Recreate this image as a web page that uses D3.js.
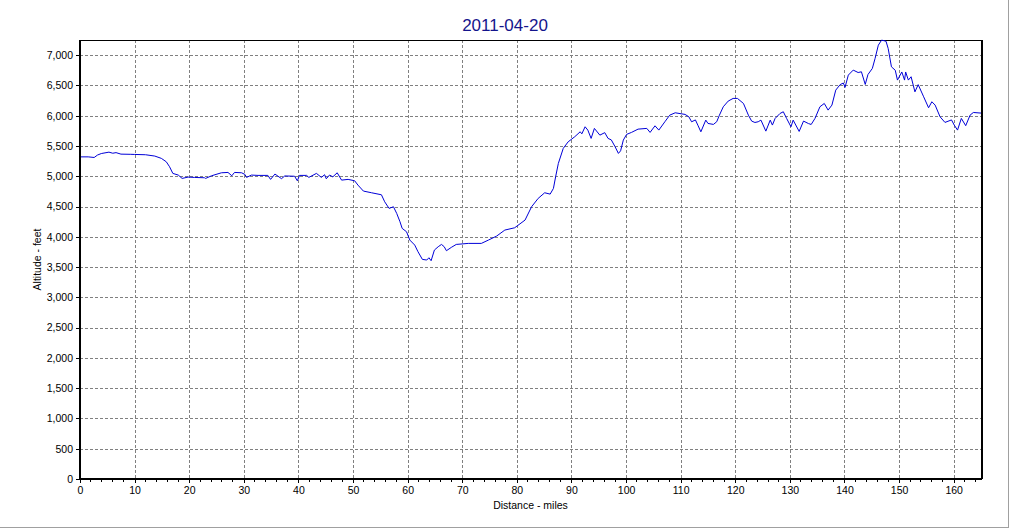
<!DOCTYPE html>
<html>
<head>
<meta charset="utf-8">
<script src="https://cdn.jsdelivr.net/npm/d3@7"></script>
<style>
html,body{margin:0;padding:0;background:#fff;}
svg{display:block;}
text{font-family:"Liberation Sans",Arial,sans-serif;}
</style>
</head>
<body>
<svg id="chart" width="1011" height="529"></svg>
<script>
const title = "2011-04-20";
const xTitle = "Distance - miles";
const yTitle = "Altitude - feet";
const xTicks = [0,10,20,30,40,50,60,70,80,90,100,110,120,130,140,150,160];
const yTicks = [0,500,1000,1500,2000,2500,3000,3500,4000,4500,5000,5500,6000,6500,7000];
const distance = [0,1.5,2.6,3.2,3.9,5.3,6.0,6.6,7.5,9.3,10.0,12.0,13.7,14.9,15.8,16.4,17.0,18.0,18.7,19.8,21.0,22.8,23.0,24.1,25.9,27.1,27.8,28.3,29.6,30.2,30.5,31.4,32.6,34.4,34.9,35.7,36.9,37.5,39.3,39.8,40.2,41.5,41.9,43.3,44.2,44.8,45.1,45.7,46.3,47.1,47.9,49.1,50.3,50.9,51.9,53.4,55.2,55.8,56.6,57.4,58.0,58.6,59.0,59.8,60.4,61.3,61.9,62.7,63.5,63.9,64.3,64.9,65.6,66.2,66.7,67.1,68.0,68.9,71.1,73.5,74.8,76.3,77.8,79.6,81.5,82.7,83.9,85.1,86.1,86.7,87.1,87.6,88.5,89.4,90.6,91.6,91.9,92.5,93.0,93.6,94.2,95.2,96.1,96.7,97.3,98.0,98.6,99.0,99.5,100.1,101.0,102.2,103.8,104.4,105.3,106.0,107.1,108.0,109.0,110.8,111.5,112.0,112.7,113.2,113.7,114.6,115.0,116.0,116.6,117.1,117.8,118.7,119.6,120.4,121.5,122.4,123.0,123.6,124.2,124.7,125.6,126.4,126.8,127.3,128.2,128.8,129.4,130.2,130.6,131.7,132.5,133.4,133.9,134.6,135.5,136.3,137.0,137.7,138.4,139.2,139.8,140.1,140.7,141.6,142.5,143.1,143.8,144.3,145.1,145.6,146.2,146.8,147.6,148.0,148.6,149.3,149.7,150.5,151.0,151.2,151.7,152.2,152.9,153.5,154.5,155.4,156.0,156.6,157.5,158.4,159.6,160.1,160.7,161.4,162.2,163.0,163.6,165.0];
const altitude = [5320,5320,5310,5350,5375,5398,5380,5390,5365,5362,5360,5355,5333,5295,5239,5157,5047,5019,4964,4986,4980,4975,4964,5008,5057,5063,5008,5063,5057,5030,4981,5019,5014,5014,4948,5036,4960,5005,5000,4925,5014,5014,4981,5047,4981,5025,4958,5020,4990,5057,4936,4948,4925,4854,4755,4727,4694,4578,4469,4496,4386,4248,4139,4083,3946,3863,3753,3627,3616,3654,3605,3781,3836,3874,3836,3770,3825,3874,3891,3891,3946,4012,4111,4149,4276,4496,4634,4727,4705,4799,4991,5212,5460,5569,5652,5734,5700,5817,5762,5625,5790,5679,5720,5625,5600,5486,5377,5420,5597,5691,5724,5778,5790,5724,5833,5762,5899,6009,6048,6021,5982,5899,5930,5833,5734,5927,5872,5856,5900,6009,6147,6241,6285,6285,6202,6009,5911,5888,5900,5927,5745,5927,5845,5955,6037,6065,5955,5817,5927,5740,5911,5870,5855,5955,6147,6202,6092,6175,6422,6513,6540,6467,6670,6753,6713,6725,6516,6680,6780,6945,7165,7248,7230,7111,6807,6750,6588,6722,6588,6722,6588,6643,6394,6513,6312,6131,6230,6175,5982,5889,5930,5845,5762,5955,5835,6009,6053,6043];

const svg = d3.select("#chart");
const L = 80, R = 981, T = 40, B = 479;
const x = d3.scaleLinear().domain([0,165]).range([L,R]);
const y = d3.scaleLinear().domain([0,7250]).range([B,T]);

// outer window edges
svg.append("line").attr("x1",0).attr("x2",1009).attr("y1",527.5).attr("y2",527.5).attr("stroke","#a0a0a0");
svg.append("line").attr("x1",1008.5).attr("x2",1008.5).attr("y1",0).attr("y2",528).attr("stroke","#a0a0a0");

// grid
const grid = svg.append("g").attr("stroke","#808080").attr("stroke-width",1).attr("stroke-dasharray","3,2").attr("shape-rendering","crispEdges");
grid.selectAll(".gx").data(xTicks.filter(d=>d>0)).join("line")
  .attr("x1",d=>Math.round(x(d))+0.5).attr("x2",d=>Math.round(x(d))+0.5).attr("y1",T).attr("y2",B);
grid.selectAll(".gy").data(yTicks.filter(d=>d>0)).join("line")
  .attr("x1",L).attr("x2",R).attr("y1",d=>Math.round(y(d))+0.5).attr("y2",d=>Math.round(y(d))+0.5);

// top/right frame
svg.append("line").attr("x1",L).attr("x2",R+1).attr("y1",T+0.5).attr("y2",T+0.5).attr("stroke","#000").attr("shape-rendering","crispEdges");
svg.append("line").attr("x1",R+0.5).attr("x2",R+0.5).attr("y1",T).attr("y2",B).attr("stroke","#000").attr("stroke-width",2).attr("shape-rendering","crispEdges");

// line
const line = d3.line().x((d,i)=>x(distance[i])).y((d,i)=>y(altitude[i]));
svg.append("path").datum(altitude).attr("d",line).attr("fill","none").attr("stroke","#0000d8").attr("stroke-width",1).attr("stroke-linejoin","round");

// axes
const xAxis = svg.append("g").attr("transform",`translate(0,${B})`)
  .call(d3.axisBottom(x).tickValues(xTicks).tickSize(4).tickPadding(4).tickFormat(d3.format("d")));
const minorX = d3.range(2,165,2).filter(d=>d%10!==0);
svg.append("g").selectAll("line").data(minorX).join("line")
  .attr("x1",d=>x(d)).attr("x2",d=>x(d)).attr("y1",B).attr("y2",B+3).attr("stroke","#000").attr("shape-rendering","crispEdges");
const yAxis = svg.append("g").attr("transform",`translate(${L},0)`)
  .call(d3.axisLeft(y).tickValues(yTicks).tickSize(4).tickPadding(3).tickFormat(d3.format(",")));
[xAxis,yAxis].forEach(g=>{
  g.select(".domain").remove();
  g.selectAll(".tick line").attr("stroke","#000").attr("shape-rendering","crispEdges");
  g.selectAll("text").attr("font-size","10.5px").attr("fill","#000").attr("font-family","Liberation Sans, Arial, sans-serif");
});
svg.append("line").attr("x1",L).attr("x2",R+1).attr("y1",B).attr("y2",B).attr("stroke","#000").attr("stroke-width",2.5).attr("shape-rendering","crispEdges");
svg.append("line").attr("x1",L).attr("x2",L).attr("y1",T).attr("y2",B+1).attr("stroke","#000").attr("stroke-width",2.5).attr("shape-rendering","crispEdges");

// titles
svg.append("text").attr("x",505).attr("y",31).attr("text-anchor","middle").attr("font-size","17px").attr("fill","#14148c").text(title);
svg.append("text").attr("x",(L+R)/2).attr("y",509).attr("text-anchor","middle").attr("font-size","10.5px").attr("fill","#000").text(xTitle);
svg.append("text").attr("transform",`translate(41,${(T+B)/2}) rotate(-90)`).attr("text-anchor","middle").attr("font-size","10.5px").attr("fill","#000").text(yTitle);
</script>
</body>
</html>
